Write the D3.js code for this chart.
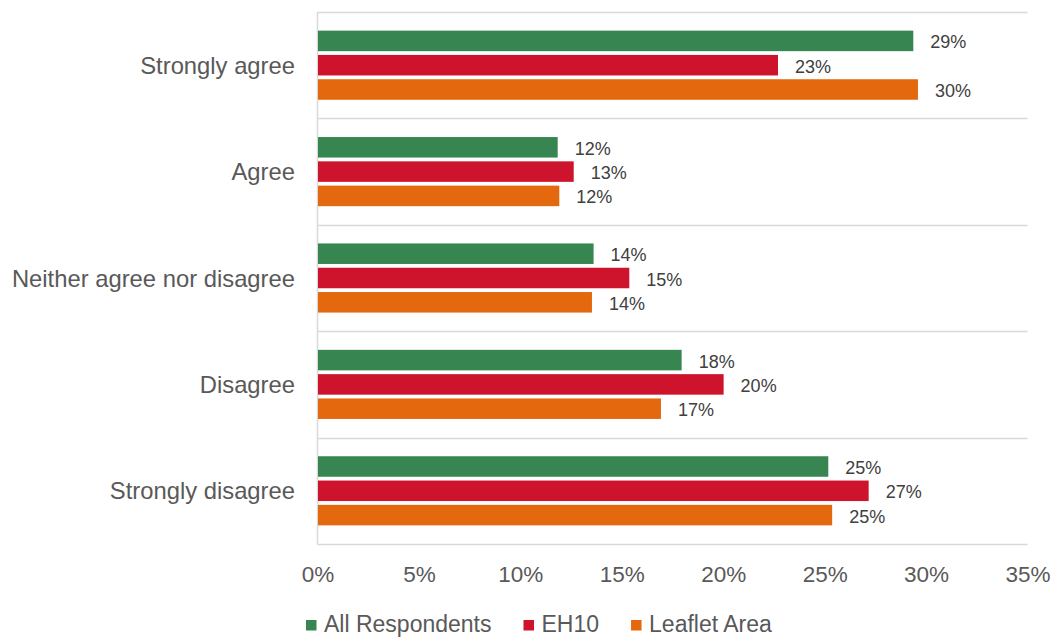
<!DOCTYPE html>
<html>
<head>
<meta charset="utf-8">
<script src="https://cdn.jsdelivr.net/npm/d3@7"></script>
<style>
  html, body { margin: 0; padding: 0; background: #ffffff; }
  svg { display: block; font-family: Arial, "Liberation Sans", sans-serif; }
</style>
</head>
<body>
<svg id="chart" width="1059" height="637"></svg>
<script>
// Survey responses, share of each group (percent)
const categories = ["Strongly agree", "Agree", "Neither agree nor disagree", "Disagree", "Strongly disagree"];
const seriesNames = ["All Respondents", "EH10", "Leaflet Area"];
const allRespondents = [29.37, 11.84, 13.61, 17.95, 25.18];
const eh10 = [22.7, 12.63, 15.37, 20.02, 27.17];
const leafletArea = [29.6, 11.92, 13.53, 16.93, 25.37];
const tickValues = [0, 5, 10, 15, 20, 25, 30, 35];
const colors = ["#378651", "#cd142c", "#e4680e"];

const seriesValues = [allRespondents, eh10, leafletArea];

const svg = d3.select("#chart");
const plot = { left: 317.5, right: 1027.5, top: 12, bottom: 544 };

const x = d3.scaleLinear().domain([0, 35]).range([plot.left, plot.right]);
const y = d3.scaleBand().domain(categories).range([plot.top, plot.bottom]).padding(0);
const ySub = d3.scaleBand().domain(seriesNames).range([0, y.bandwidth()])
  .paddingInner(0.156).paddingOuter(0.767);
const color = d3.scaleOrdinal().domain(seriesNames).range(colors);

// Horizontal separators between categories
const bounds = categories.map(c => y(c)).concat([plot.bottom]);
svg.append("g").selectAll("line").data(bounds).join("line")
  .attr("x1", plot.left).attr("x2", plot.right)
  .attr("y1", d => Math.round(d) + 0.5).attr("y2", d => Math.round(d) + 0.5)
  .attr("stroke", "#d9d9d9").attr("stroke-width", 1.3);

// Vertical axis line
svg.append("line")
  .attr("x1", plot.left).attr("x2", plot.left)
  .attr("y1", plot.top).attr("y2", plot.bottom + 0.5)
  .attr("stroke", "#d9d9d9").attr("stroke-width", 1.5);

// Bars
const rows = [];
categories.forEach((c, i) => {
  seriesNames.forEach((s, j) => rows.push({ cat: c, series: s, value: seriesValues[j][i] }));
});

const groups = svg.append("g");
groups.selectAll("rect").data(rows).join("rect")
  .attr("x", x(0) + 0.5)
  .attr("y", d => y(d.cat) + ySub(d.series))
  .attr("width", d => x(d.value) - x(0) - 0.5)
  .attr("height", ySub.bandwidth())
  .attr("fill", d => color(d.series));

// Value labels
const fmt = d3.format(".0%");
groups.selectAll("text").data(rows).join("text")
  .attr("x", d => x(d.value) + 17)
  .attr("y", d => y(d.cat) + ySub(d.series) + ySub.bandwidth() / 2 + 1.5)
  .attr("dominant-baseline", "central")
  .attr("font-size", "18px")
  .attr("fill", "#404040")
  .text(d => fmt(d.value / 100));

// Category labels
svg.append("g").selectAll("text").data(categories).join("text")
  .attr("x", 295)
  .attr("y", d => y(d) + y.bandwidth() / 2)
  .attr("dominant-baseline", "central")
  .attr("text-anchor", "end")
  .attr("font-size", "23.8px")
  .attr("fill", "#595959")
  .text(d => d);

// X axis tick labels
const xAxis = d3.axisBottom(x).tickValues(tickValues).tickSize(0).tickPadding(0)
  .tickFormat(d => d + "%");
const ax = svg.append("g").attr("transform", `translate(0, ${plot.bottom})`).call(xAxis);
ax.select(".domain").remove();
ax.selectAll("text")
  .attr("y", 38).attr("dy", 0)
  .attr("font-size", "22.5px")
  .attr("font-family", "Arial, 'Liberation Sans', sans-serif")
  .attr("fill", "#595959");

// Legend
const legend = svg.append("g").attr("transform", "translate(306, 0)");
let cursor = 0;
seriesNames.forEach((s, i) => {
  const item = legend.append("g").attr("transform", `translate(${cursor}, 0)`);
  item.append("rect").attr("x", 0).attr("y", 620).attr("width", 10.5).attr("height", 10.5)
    .attr("fill", colors[i]);
  const t = item.append("text").attr("x", 18).attr("y", 632)
    .attr("font-size", "23px").attr("fill", "#595959").text(s);
  cursor += 18 + t.node().getComputedTextLength() + 32;
});
</script>
</body>
</html>
